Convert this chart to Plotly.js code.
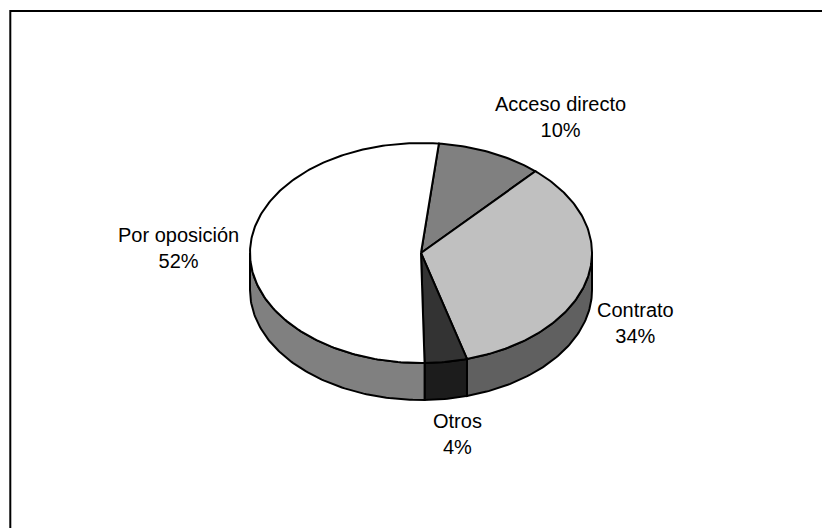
<!DOCTYPE html>
<html>
<head>
<meta charset="utf-8">
<script src="https://cdn.plot.ly/plotly-3.0.1.min.js"></script>
<style>html,body{margin:0;padding:0;background:#fff;}#chart{width:822px;height:528px;}</style>
</head>
<body>
<div id="chart"></div>
<script>
// ---- data ----
const categories = ["Acceso directo", "Contrato", "Otros", "Por oposición"];
const values = [10, 34, 4, 52];
const topColors = ["#808080", "#c0c0c0", "#333333", "#ffffff"];
const sideColors = ["#6a6a6a", "#606060", "#1c1c1c", "#808080"];
const labelPos = [[560, 117], [635, 323], [457, 434], [178, 248]];

// ---- 3D pie projection (style) ----
const cx = 421, cy = 253, rx = 171, ry = 110, depth = 37, startAngle = 6;
function pt(theta, dy) {
  const r = theta * Math.PI / 180;
  return [cx + rx * Math.sin(r), cy - ry * Math.cos(r) + (dy || 0)];
}
function arc(a0, a1, dy) {
  const pts = [];
  const n = Math.max(2, Math.ceil(Math.abs(a1 - a0)));
  for (let i = 0; i <= n; i++) pts.push(pt(a0 + (a1 - a0) * i / n, dy));
  return pts;
}

const total = values.reduce((a, b) => a + b, 0);
const spans = [];
let acc = startAngle;
values.forEach(v => { const a0 = acc; acc += v / total * 360; spans.push([a0, acc]); });

const traces = [];
// side walls (front half only)
spans.forEach(([a0, a1], i) => {
  const segs = [[a0, a1], [a0 - 360, a1 - 360]];
  segs.forEach(([s0, s1]) => {
    const lo = Math.max(s0, 90), hi = Math.min(s1, 270);
    if (lo < hi) {
      const pts = arc(lo, hi, 0).concat(arc(hi, lo, depth));
      pts.push(pts[0]);
      traces.push({
        x: pts.map(p => p[0]), y: pts.map(p => p[1]),
        mode: "lines", fill: "toself", fillcolor: sideColors[i],
        line: {color: "#000", width: 2}, hoverinfo: "skip", showlegend: false
      });
    }
  });
});
// top faces
spans.forEach(([a0, a1], i) => {
  const pts = [[cx, cy]].concat(arc(a0, a1, 0));
  pts.push([cx, cy]);
  traces.push({
    x: pts.map(p => p[0]), y: pts.map(p => p[1]),
    mode: "lines", fill: "toself", fillcolor: topColors[i],
    line: {color: "#000", width: 2, join: "miter"}, hoverinfo: "skip", showlegend: false
  });
});

const annotations = categories.map((c, i) => ({
  x: labelPos[i][0], y: labelPos[i][1], xref: "x", yref: "y",
  text: c + "<br>" + values[i] + "%", showarrow: false,
  xanchor: "center", yanchor: "middle",
  font: {family: "Liberation Sans, Arial, sans-serif", size: 20, color: "#000"}
}));

const layout = {
  width: 822, height: 528,
  margin: {l: 0, r: 0, t: 0, b: 0},
  paper_bgcolor: "#fff", plot_bgcolor: "#fff",
  xaxis: {range: [0, 822], visible: false, fixedrange: true},
  yaxis: {range: [528, 0], visible: false, fixedrange: true},
  showlegend: false,
  annotations: annotations,
  shapes: [{
    type: "path", xref: "x", yref: "y",
    path: "M10.3,528 L10.3,11 L822,11",
    line: {color: "#000", width: 2}
  }]
};

Plotly.newPlot("chart", traces, layout, {staticPlot: true, displayModeBar: false});
</script>
</body>
</html>
